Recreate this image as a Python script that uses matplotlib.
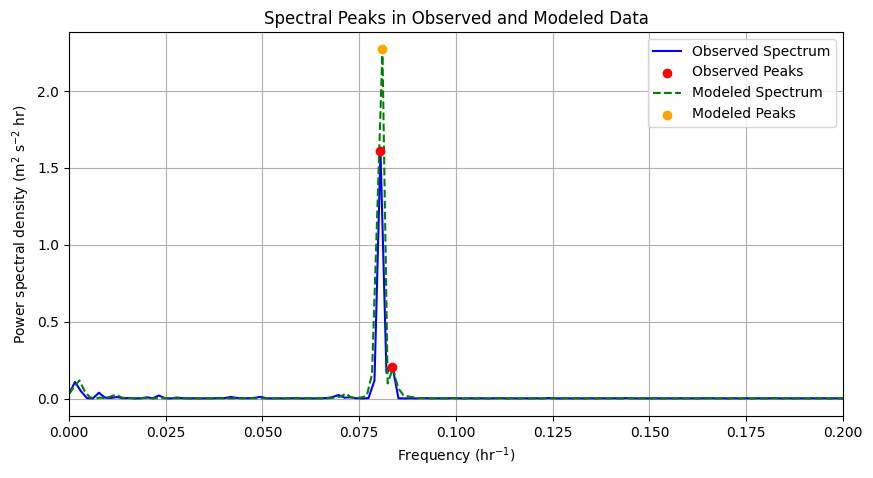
import matplotlib
matplotlib.use('Agg')
import matplotlib.pyplot as plt
import numpy as np

# frequency resolution of the two spectra (hr^-1)
df_obs = 0.001548
df_mod = 0.00135

obs_psd = [0.03, 0.11, 0.05, 0.005, 0.003, 0.04, 0.008, 0.006, 0.012, 0.004,
           0.006, 0.003, 0.004, 0.010, 0.004, 0.022, 0.005, 0.003, 0.009, 0.004,
           0.003, 0.004, 0.003, 0.004, 0.003, 0.006, 0.005, 0.013, 0.006, 0.005,
           0.004, 0.007, 0.013, 0.004, 0.003, 0.004, 0.003, 0.004, 0.005, 0.003,
           0.004, 0.003, 0.004, 0.005, 0.012, 0.025, 0.008, 0.010, 0.004, 0.003,
           0.005, 0.12, 1.61, 0.17, 0.21, 0.004, 0.003, 0.004, 0.003, 0.005,
           0.004, 0.003, 0.004, 0.003, 0.005, 0.004, 0.003, 0.004, 0.003, 0.004,
           0.003, 0.004, 0.005, 0.003, 0.004, 0.003, 0.004, 0.003, 0.004, 0.003,
           0.005, 0.004, 0.003, 0.004, 0.003, 0.004, 0.003, 0.004, 0.003, 0.004,
           0.003, 0.004, 0.003, 0.005, 0.004, 0.003, 0.004, 0.003, 0.004, 0.003,
           0.004, 0.003, 0.004, 0.003, 0.004, 0.003, 0.004, 0.005, 0.003, 0.004,
           0.003, 0.004, 0.003, 0.004, 0.003, 0.004, 0.003, 0.004, 0.005, 0.003,
           0.004, 0.003, 0.004, 0.003, 0.004, 0.003, 0.004, 0.003, 0.004, 0.003,
           0.004]

mod_psd = [0.03, 0.08, 0.12, 0.05, 0.01, 0.003, 0.008, 0.005, 0.015, 0.028,
           0.010, 0.004, 0.005, 0.003, 0.004, 0.006, 0.003, 0.004, 0.005, 0.003,
           0.004, 0.003, 0.005, 0.004, 0.003, 0.004, 0.003, 0.004, 0.005, 0.003,
           0.004, 0.003, 0.004, 0.003, 0.005, 0.004, 0.003, 0.004, 0.003, 0.004,
           0.003, 0.004, 0.005, 0.003, 0.004, 0.003, 0.004, 0.003, 0.004, 0.003,
           0.005, 0.008, 0.015, 0.035, 0.010, 0.005, 0.010, 0.020, 0.16, 1.20,
           2.27, 0.10, 0.20, 0.07, 0.025, 0.015, 0.010, 0.005, 0.004, 0.003,
           0.004, 0.003, 0.004, 0.005, 0.003, 0.004, 0.003, 0.004, 0.003, 0.004,
           0.003, 0.004, 0.003, 0.004, 0.003, 0.004, 0.003, 0.004, 0.003, 0.004,
           0.003, 0.004, 0.003, 0.004, 0.003, 0.004, 0.003, 0.004, 0.003, 0.004,
           0.003, 0.004, 0.003, 0.004, 0.003, 0.004, 0.003, 0.004, 0.003, 0.004,
           0.003, 0.004, 0.003, 0.004, 0.003, 0.004, 0.003, 0.004, 0.003, 0.004,
           0.003, 0.004, 0.003, 0.004, 0.003, 0.004, 0.003, 0.004, 0.003, 0.004,
           0.003, 0.004, 0.003, 0.004, 0.003, 0.004, 0.003, 0.004, 0.003, 0.004,
           0.003, 0.004, 0.003, 0.004, 0.003, 0.004, 0.003, 0.004, 0.003]

obs_peak_idx = [52, 54]
mod_peak_idx = [60]

obs_f = np.arange(len(obs_psd)) * df_obs
mod_f = np.arange(len(mod_psd)) * df_mod
obs_psd = np.array(obs_psd)
mod_psd = np.array(mod_psd)

fig = plt.figure(figsize=(8.73, 4.78), dpi=100)
ax = fig.add_axes([0.079, 0.13, 0.8866, 0.803])

ax.plot(obs_f, obs_psd, 'b-', label='Observed Spectrum')
ax.scatter(obs_f[obs_peak_idx], obs_psd[obs_peak_idx], color='red', zorder=3, label='Observed Peaks')
ax.plot(mod_f, mod_psd, 'g--', label='Modeled Spectrum')
ax.scatter(mod_f[mod_peak_idx], mod_psd[mod_peak_idx], color='orange', zorder=3, label='Modeled Peaks')

ax.set_xlim(0, 0.2)
ax.set_title('Spectral Peaks in Observed and Modeled Data')
ax.set_xlabel('Frequency (hr$^{-1}$)')
ax.set_ylabel('Power spectral density (m$^2$ s$^{-2}$ hr)')
ax.legend(loc='upper right')
ax.grid(True)

fig.savefig('out.png', dpi=100)
